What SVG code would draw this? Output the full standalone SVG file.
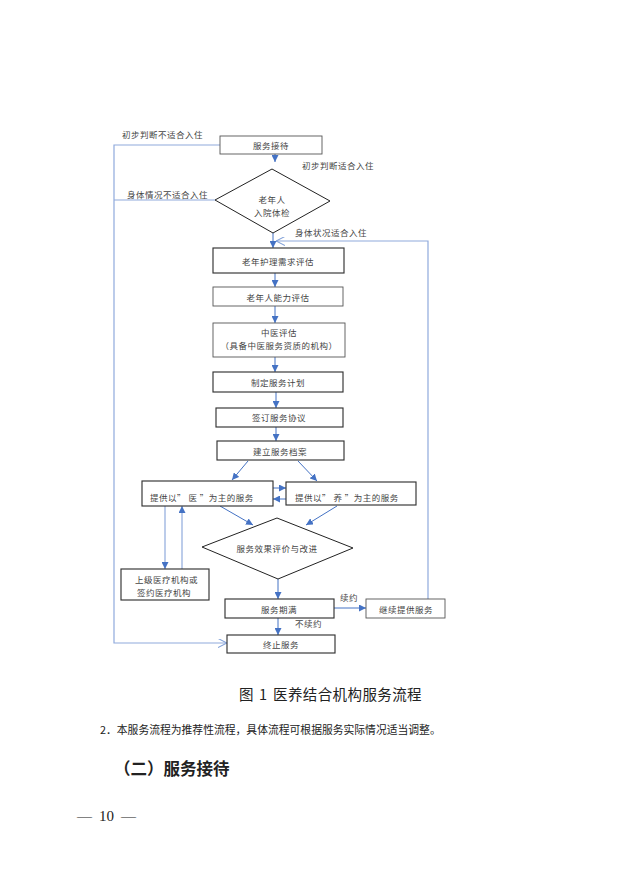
<svg xmlns="http://www.w3.org/2000/svg" width="636" height="896" viewBox="0 0 636 896">
<defs>
<marker id="ah" markerUnits="userSpaceOnUse" markerWidth="7" markerHeight="7" viewBox="0 0 10 10" refX="10" refY="5" orient="auto"><path d="M0,0 L10,5 L0,10 Z" fill="#4472C4"/></marker>
<marker id="ao" markerUnits="userSpaceOnUse" markerWidth="9" markerHeight="9" viewBox="0 0 10 10" refX="10" refY="5" orient="auto"><path d="M0,0 L10,5 L0,10" fill="none" stroke="#7F9FD8" stroke-width="1.2"/></marker>
<style>
.bx{fill:#fff;stroke:#555;stroke-width:0.9}
.bk{fill:#fff;stroke:#333;stroke-width:1.15}
.dm{fill:#fff;stroke:#222;stroke-width:1}
.t{font-family:"Noto Sans CJK SC","Noto Sans",sans-serif;font-size:8.5px;letter-spacing:0.5px;fill:#444;text-anchor:middle;dominant-baseline:central}
.tl{font-family:"Noto Sans CJK SC","Noto Sans",sans-serif;font-size:8.5px;letter-spacing:0.5px;fill:#444;dominant-baseline:central}
.c{fill:none;stroke:#4472C4;stroke-width:1}
.cl{fill:none;stroke:#8FAADC;stroke-width:1.2}
.cap{font-family:"Noto Sans CJK SC",sans-serif;fill:#222}
.pn{font-family:"Liberation Serif",serif;font-size:15px;fill:#222}
</style>
</defs>
<rect width="636" height="896" fill="#fff"/>

<g id="connectors">
<polyline class="cl" points="220,145 114,145 114,643 227,643" marker-end="url(#ao)"/>
<line class="cl" x1="215" y1="200" x2="114" y2="200"/>
<polyline class="cl" points="428,599 428,241 276,241" marker-end="url(#ao)"/>
<line class="c" x1="275" y1="154" x2="275" y2="162" marker-end="url(#ah)"/>
<line class="c" x1="273" y1="233" x2="273" y2="248" marker-end="url(#ah)"/>
<line class="c" x1="275" y1="273" x2="275" y2="287" marker-end="url(#ah)"/>
<line class="c" x1="275" y1="306" x2="275" y2="323" marker-end="url(#ah)"/>
<line class="c" x1="275" y1="357" x2="275" y2="372" marker-end="url(#ah)"/>
<line class="c" x1="276" y1="392" x2="276" y2="408" marker-end="url(#ah)"/>
<line class="c" x1="276" y1="427" x2="276" y2="441" marker-end="url(#ah)"/>
<line class="c" x1="248" y1="461" x2="232" y2="480" marker-end="url(#ah)"/>
<line class="c" x1="298" y1="461" x2="317" y2="481" marker-end="url(#ah)"/>
<line class="c" x1="273" y1="488" x2="286" y2="488" marker-end="url(#ah)"/>
<line class="c" x1="286" y1="499" x2="273" y2="499" marker-end="url(#ah)"/>
<line class="c" x1="220" y1="506" x2="253" y2="525" marker-end="url(#ah)"/>
<line class="c" x1="337" y1="506" x2="306" y2="525" marker-end="url(#ah)"/>
<line class="cl" x1="165" y1="506" x2="165" y2="569" marker-end="url(#ah)"/>
<line class="cl" x1="182" y1="569" x2="182" y2="506" marker-end="url(#ah)"/>
<line class="c" x1="278" y1="579" x2="278" y2="599" marker-end="url(#ah)"/>
<line class="c" x1="334" y1="608" x2="366" y2="608" marker-end="url(#ah)"/>
<line class="c" x1="278" y1="618" x2="278" y2="635" marker-end="url(#ah)"/>
<text class="tl" x="122" y="134">初步判断不适合入住</text>
<text class="tl" x="302" y="165">初步判断适合入住</text>
<text class="tl" x="127" y="194">身体情况不适合入住</text>
<text class="tl" x="295" y="232">身体状况适合入住</text>
<text class="tl" x="340" y="597">续约</text>
<text class="tl" x="295" y="623">不续约</text>
</g>

<g id="n1"><rect class="bx" x="220" y="136" width="102" height="18"/><text class="t" x="271" y="145">服务接待</text></g>
<g id="n2"><polygon class="dm" points="272,169 330,201 273,233 215,200"/><text class="t" x="272" y="199">老年人</text><text class="t" x="272" y="212">入院体检</text></g>
<g id="n3"><rect class="bk" x="213" y="248" width="131" height="25"/><text class="t" x="278" y="261">老年护理需求评估</text></g>
<g id="n4"><rect class="bx" x="213" y="287" width="130" height="19"/><text class="t" x="278" y="297">老年人能力评估</text></g>
<g id="n5"><rect class="bx" x="213" y="323" width="132" height="34"/><text class="t" x="279" y="332">中医评估</text><text class="t" x="279" y="345">（具备中医服务资质的机构）</text></g>
<g id="n6"><rect class="bk" x="213" y="372" width="130" height="20"/><text class="t" x="278" y="382">制定服务计划</text></g>
<g id="n7"><rect class="bk" x="216" y="408" width="127" height="19"/><text class="t" x="279" y="417">签订服务协议</text></g>
<g id="n8"><rect class="bk" x="217" y="441" width="127" height="19"/><text class="t" x="280" y="451">建立服务档案</text></g>
<g id="n9"><rect class="bk" x="142" y="481" width="131" height="25"/><text class="tl" x="150" y="497">提供以” 医 ”为主的服务</text></g>
<g id="n10"><rect class="bk" x="286" y="482" width="130" height="23"/><text class="tl" x="295" y="497">提供以” 养 ”为主的服务</text></g>
<g id="n11"><polygon class="dm" points="277,518 353,548 278,579 202,547"/><text class="t" x="277" y="548">服务效果评价与改进</text></g>
<g id="n12"><rect class="bk" x="121" y="569" width="88" height="31"/><text class="tl" x="135" y="579">上级医疗机构或</text><text class="tl" x="137" y="592">签约医疗机构</text></g>
<g id="n13"><rect class="bk" x="225" y="599" width="109" height="19"/><text class="t" x="279" y="609">服务期满</text></g>
<g id="n14"><rect class="bx" x="366" y="599" width="79" height="19"/><text class="t" x="406" y="609">继续提供服务</text></g>
<g id="n15"><rect class="bk" x="227" y="635" width="108" height="18"/><text class="t" x="281" y="644">终止服务</text></g>

<text class="cap" y="700" font-size="14.5"><tspan x="239">图</tspan><tspan x="259">1</tspan><tspan x="273" letter-spacing="0.4">医养结合机构服务流程</tspan></text>
<text class="cap" x="100" y="734" font-size="10.8">2．本服务流程为推荐性流程，具体流程可根据服务实际情况适当调整。</text>
<text class="cap" x="114" y="775" font-size="16.5" font-weight="bold">（二）服务接待</text>
<text class="pn" y="821"><tspan x="77">—</tspan><tspan x="99">10</tspan><tspan x="121">—</tspan></text>
</svg>
